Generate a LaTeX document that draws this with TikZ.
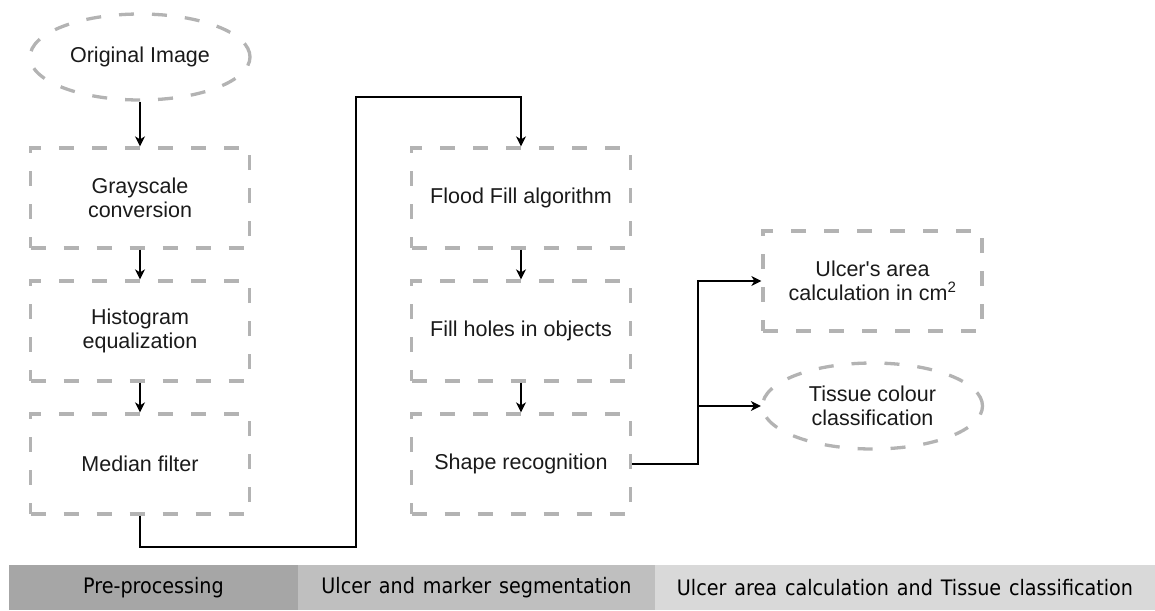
\documentclass[tikz,border=0pt]{standalone}
\usepackage{fontspec}
\setmainfont{Liberation Sans}[Ligatures=ResetAll]
\newfontfamily\barfont{DejaVu Sans Condensed}[WordSpace=1.3]
\usetikzlibrary{shapes.geometric,arrows.meta}
\definecolor{dashgray}{HTML}{B3B3B3}
\definecolor{barA}{HTML}{A6A6A6}
\definecolor{barB}{HTML}{BFBFBF}
\definecolor{barC}{HTML}{D9D9D9}
\definecolor{txt}{HTML}{1A1A1A}
\tikzset{
  stepbox/.style={rectangle, draw=dashgray, line width=3.3pt, dash pattern=on 15pt off 18pt,
    minimum width=219pt, minimum height=100pt, inner sep=0pt, align=center, text=txt,
    font=\fontsize{21.5}{23.5}\selectfont},
  stepell/.style={ellipse, draw=dashgray, line width=3.3pt, dash pattern=on 15pt off 18pt,
    minimum width=220pt, minimum height=86pt, inner sep=0pt, align=center, text=txt,
    font=\fontsize{21.5}{23.5}\selectfont},
  conn/.style={draw=black, line width=1.4pt},
  arr/.style={conn, -{Stealth[length=10pt,width=10pt,inset=3pt]}},
  barcell/.style={rectangle, inner sep=0pt, minimum height=45pt, text=black,
    font=\barfont\fontsize{21.3}{22}\selectfont}
}
\begin{document}
\begin{tikzpicture}[x=1pt,y=-1pt]
\useasboundingbox (0,0) rectangle (1155,610);
% left column
\node[stepell] (orig) at (140,57) {Original Image};
\node[stepbox] (gray) at (140,198) {Grayscale\\conversion};
\node[stepbox] (hist) at (140,331) {Histogram\\equalization};
\node[stepbox] (med)  at (140,464) {Median filter};
% middle column
\node[stepbox] (flood) at (521,198) {Flood Fill algorithm};
\node[stepbox] (fill)  at (521,331) {Fill holes in objects};
\node[stepbox] (shape) at (521,464) {Shape recognition};
% right column
\node[stepbox] (ulcer) at (872.5,281) {Ulcer\textquotesingle s area\\calculation in cm\textsuperscript{2}};
\node[stepell] (tissue) at (872.5,406) {Tissue colour\\classification};
% connectors
\draw[arr] (orig) -- (gray);
\draw[arr] (gray) -- (hist);
\draw[arr] (hist) -- (med);
\draw[arr] (flood) -- (fill);
\draw[arr] (fill) -- (shape);
\coordinate (c1) at (356,547);
\coordinate (c2) at (356,97);
\draw[arr] (med.south) |- (c1) -- (c2) -| (flood.north);
\coordinate (j) at (698,464);
\draw[arr] (shape.east) -- (j) |- (ulcer.west);
\draw[arr] (j) |- (tissue.west);
% bottom bar
\node[barcell, fill=barA, minimum width=289pt] (b1) at (153.5,587.5) {\raisebox{-1pt}{Pre-processing}};
\node[barcell, fill=barB, minimum width=357pt] (b2) at (476.5,587.5) {\raisebox{-1pt}{Ulcer and marker segmentation}};
\node[barcell, fill=barC, minimum width=500pt] (b3) at (905,587.5) {\raisebox{-1pt}{Ulcer area calculation and Tissue classification}};
\end{tikzpicture}
\end{document}
